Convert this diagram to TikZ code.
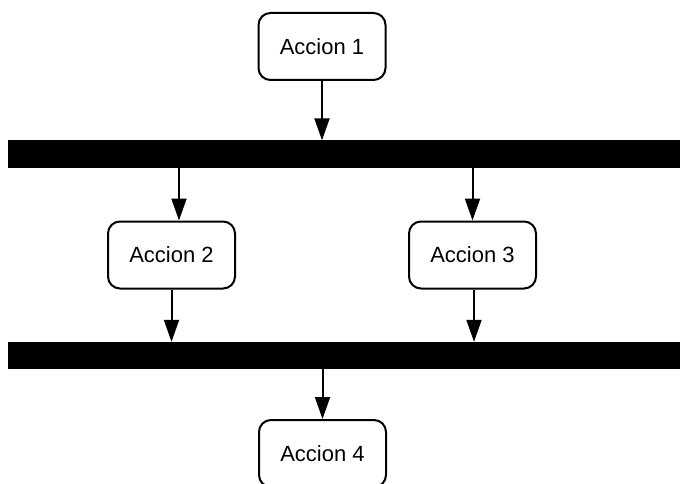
\documentclass[tikz,border=0pt]{standalone}
\usepackage{fontspec}
\setmainfont{Liberation Sans}
\usetikzlibrary{arrows.meta}
\begin{document}
\begin{tikzpicture}[x=1pt,y=-1pt,
  action/.style={draw,line width=2pt,rounded corners=12pt,fill=white,
    minimum width=127pt,minimum height=67pt,inner sep=0pt,
    font=\fontsize{22}{26}\selectfont},
  bar/.style={fill=black,minimum width=672pt,minimum height=27pt,inner sep=0pt,draw=none},
  arr/.style={line width=2pt,-{Triangle[length=22pt,width=15pt]}}]
\useasboundingbox (0,0) rectangle (680,484);
\clip (0,0) rectangle (680,484);
\node[action] (a1) at (322,46.5) {Accion 1};
\node[bar] (b1) at (344,154) {};
\node[action] (a2) at (171.5,255) {Accion 2};
\node[action] (a3) at (472.5,255) {Accion 3};
\node[bar] (b2) at (344,355.5) {};
\node[action] (a4) at (322.5,453.5) {Accion 4};
\draw[arr] (a1.south) -- (a1.south |- b1.north);
\draw[arr] ([xshift=7.5pt]a2.north |- b1.south) -- ([xshift=7.5pt]a2.north);
\draw[arr] ([xshift=0pt]a2.south) -- (a2.south |- b2.north);
\draw[arr] (a3.north |- b1.south) -- (a3.north);
\draw[arr] ([xshift=1.5pt]a3.south) -- ([xshift=1.5pt]a3.south |- b2.north);
\draw[arr] (a4.north |- b2.south) -- (a4.north);
\end{tikzpicture}
\end{document}
